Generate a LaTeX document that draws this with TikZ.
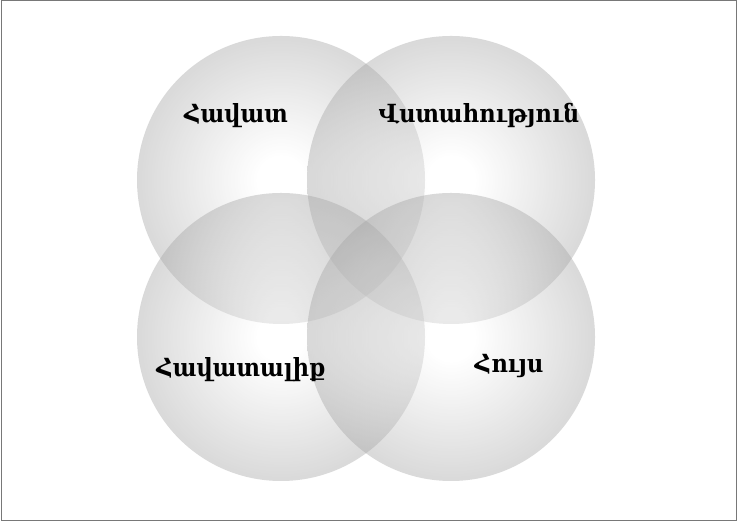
\documentclass[tikz,border=0pt]{standalone}
\usepackage{fontspec}
\usepackage{tikz}
\usetikzlibrary{positioning}
\newfontfamily\armfont{DejaVu Serif Condensed}
\definecolor{myframe}{RGB}{120,120,120}
\definecolor{myedge}{RGB}{135,135,135}
\pgfdeclareradialshading{vennball}{\pgfpoint{0bp}{0bp}}{%
  color(0bp)=(white); color(4bp)=(white); color(32bp)=(myedge);
  color(100bp)=(myedge)}
\tikzset{
  venn/.style={circle, draw=none, shading=vennball, fill opacity=0.42,
    inner sep=0pt, minimum size=144pt},
  vlabel/.style={font=\armfont\bfseries\fontsize{12.5}{14}\selectfont,
    anchor=base, text=black}
}

\begin{document}
\begin{tikzpicture}[x=0.5pt, y=0.5pt]
  % Frame
  \useasboundingbox (0,0) rectangle (737,522);
  \draw[myframe, line width=0.5pt] (1,1) rectangle (736,521);
  % Circles
  \node[venn] (faith)  at (281,342) {};
  \node[venn] (trust)  at (451,342) {};
  \node[venn] (belief) at (281,185) {};
  \node[venn] (hope)   at (451,185) {};
  % Labels
  \node[vlabel] (faithtxt)  at (236,399) {Հավատ};
  \node[vlabel] (trusttxt)  at (479,399) {Վստահություն};
  \node[vlabel] (belieftxt) at (241,145) {Հավատալիք};
  \node[vlabel] (hopetxt)   at (509,149) {Հույս};
\end{tikzpicture}
\end{document}
